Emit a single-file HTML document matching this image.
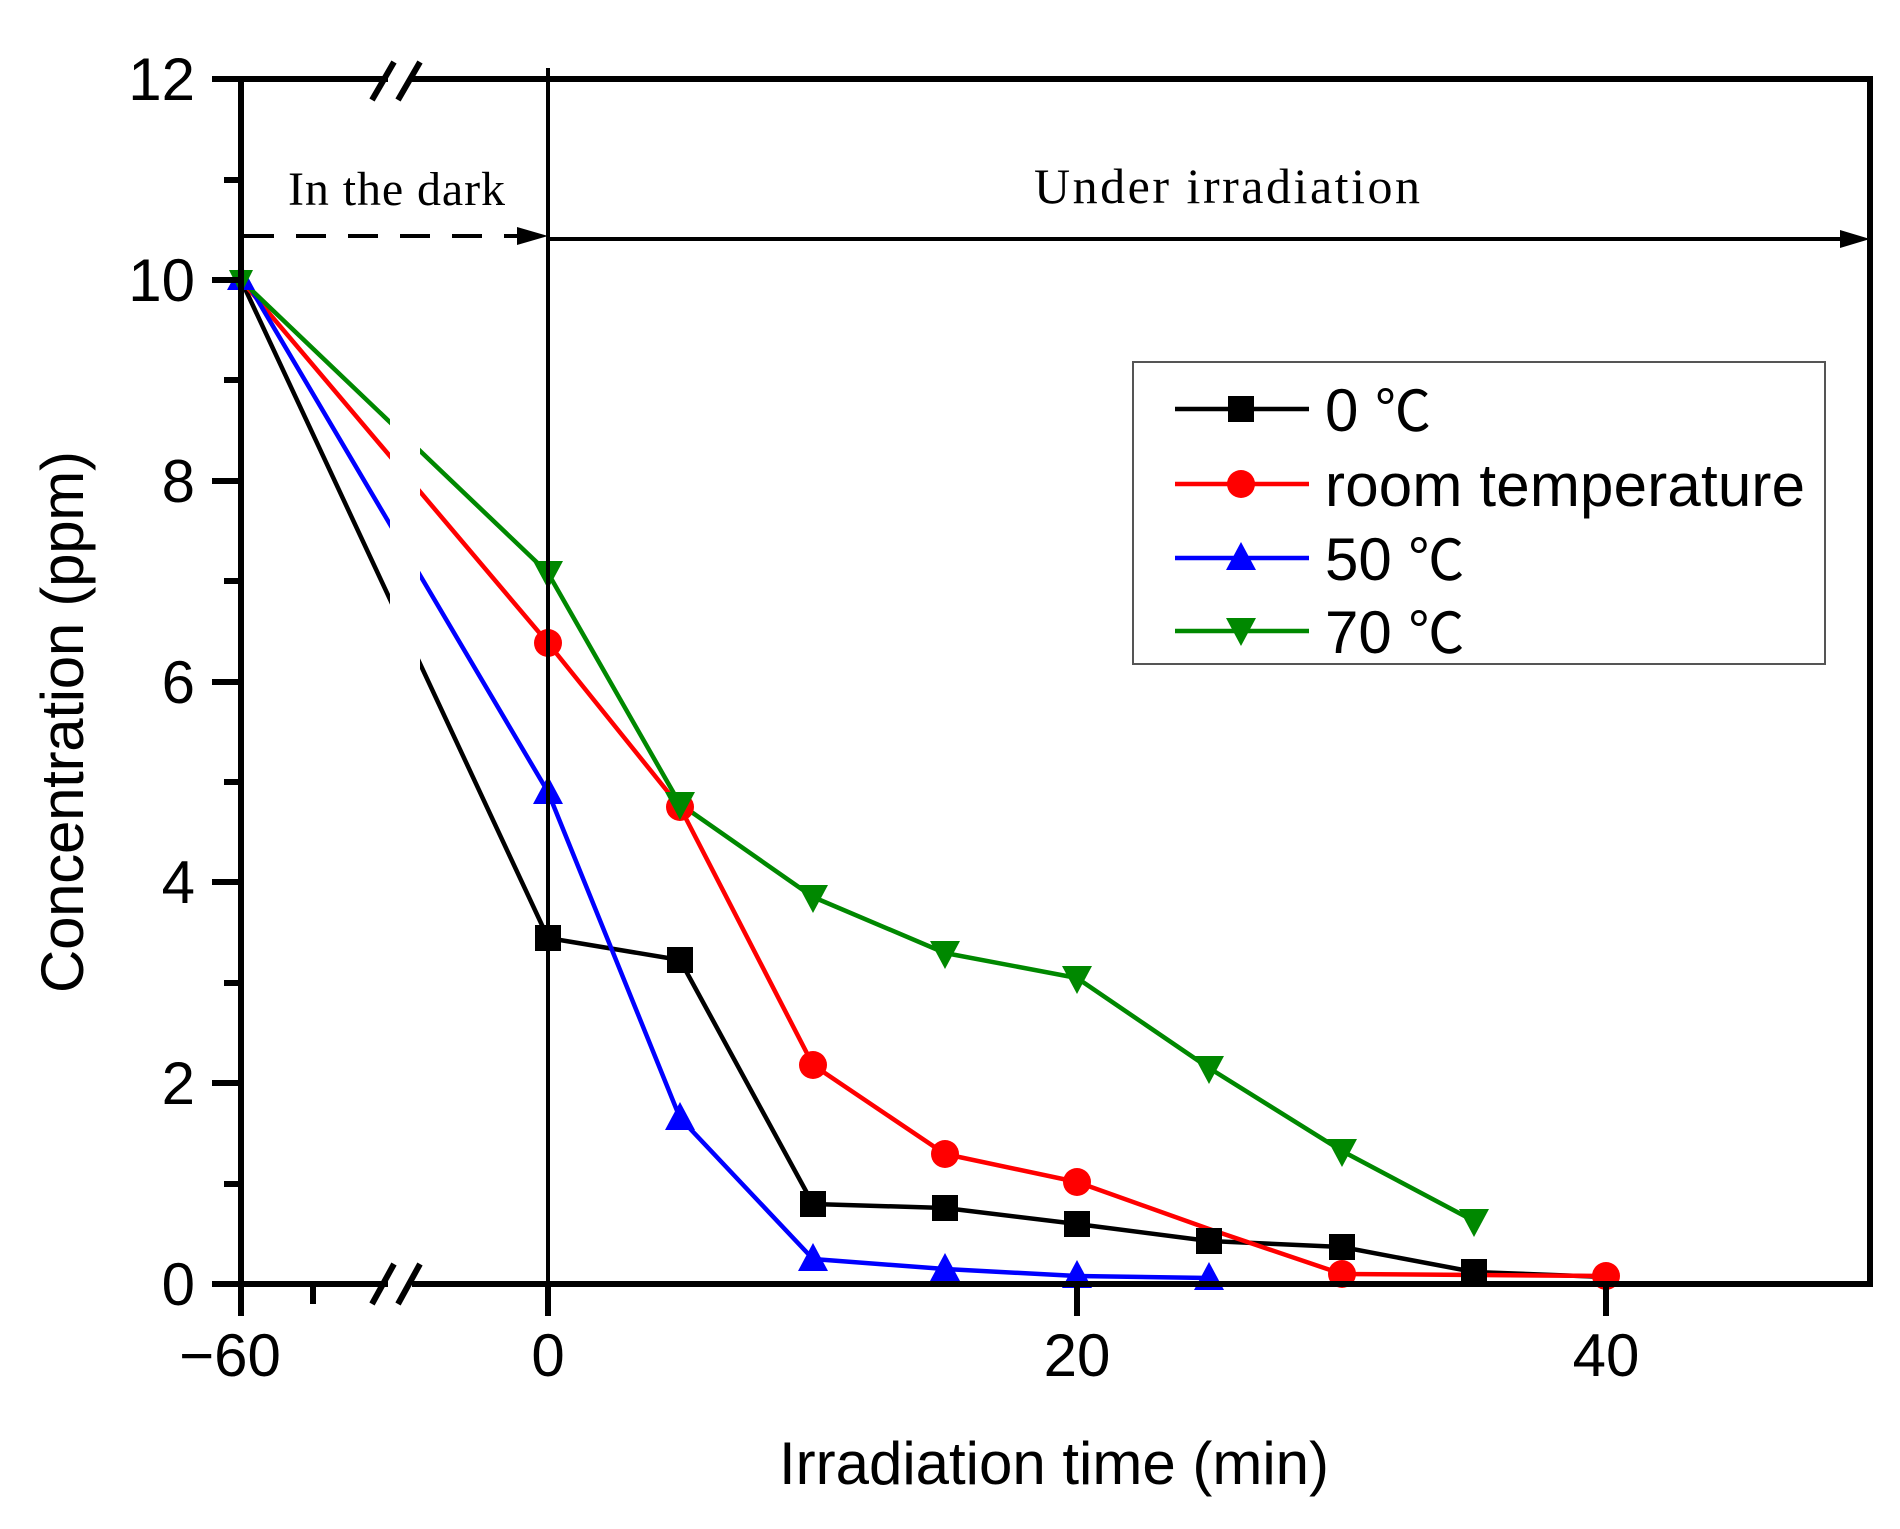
<!DOCTYPE html>
<html><head><meta charset="utf-8"><style>html,body{margin:0;padding:0;background:#fff}</style></head>
<body>
<svg width="1900" height="1524" viewBox="0 0 1900 1524" xmlns="http://www.w3.org/2000/svg" font-family="Liberation Sans, sans-serif">
<g id="data" stroke-width="4.5" fill="none" stroke-linejoin="round">
<polyline stroke="#000" points="241,280 548,938 680,960 813,1204 945,1208 1077,1224 1209,1241 1342,1247 1474,1272 1606,1277"/>
<polyline stroke="#f00" points="241,280 548,643 680,807 813,1065 945,1154 1077,1182 1209,1229 1342,1274 1606,1276"/>
<polyline stroke="#00f" points="241,272 548,792 680,1118 813,1259 945,1269 1077,1276 1209,1278"/>
<polyline stroke="#080" points="241,280 548,573 680,804 813,897 945,953 1077,978 1209,1068 1342,1151 1474,1221"/>
</g>
<rect x="390" y="300" width="30" height="420" fill="#fff"/>
<g>
<g fill="#000"><rect x="535" y="925" width="26" height="26"/><rect x="667" y="947" width="26" height="26"/><rect x="800" y="1191" width="26" height="26"/><rect x="932" y="1195" width="26" height="26"/><rect x="1064" y="1211" width="26" height="26"/><rect x="1196" y="1228" width="26" height="26"/><rect x="1329" y="1234" width="26" height="26"/><rect x="1461" y="1259" width="26" height="26"/></g>
<g fill="#f00"><circle cx="548" cy="643" r="14"/><circle cx="680" cy="807" r="14"/><circle cx="813" cy="1065" r="14"/><circle cx="945" cy="1154" r="14"/><circle cx="1077" cy="1182" r="14"/><circle cx="1342" cy="1274" r="14"/><circle cx="1606" cy="1276" r="14"/></g>
<g fill="#00f"><polygon points="548,776 563,804 533,804"/><polygon points="680,1102 695,1130 665,1130"/><polygon points="813,1243 828,1271 798,1271"/><polygon points="945,1253 960,1281 930,1281"/><polygon points="1077,1260 1092,1288 1062,1288"/><polygon points="1209,1262 1224,1290 1194,1290"/></g>
<g fill="#080"><polygon points="533,561 563,561 548,589"/><polygon points="665,792 695,792 680,820"/><polygon points="798,885 828,885 813,913"/><polygon points="930,941 960,941 945,969"/><polygon points="1062,966 1092,966 1077,994"/><polygon points="1194,1056 1224,1056 1209,1084"/><polygon points="1327,1139 1357,1139 1342,1167"/><polygon points="1459,1209 1489,1209 1474,1237"/></g>
<polygon points="241,264 255,290 227,290" fill="#00f"/>
<polygon points="229,270 253,270 241,294" fill="#080"/>
</g>
<!-- axes -->
<g stroke="#000" stroke-width="6" fill="none">
<line x1="241" y1="79" x2="241" y2="1284"/>
<line x1="1870" y1="79" x2="1870" y2="1284"/>
<line x1="212" y1="79" x2="388" y2="79"/><line x1="412" y1="79" x2="1873" y2="79"/>
<line x1="212" y1="1284" x2="388" y2="1284"/><line x1="412" y1="1284" x2="1873" y2="1284"/>
<line x1="212" y1="280" x2="241" y2="280"/><line x1="212" y1="481" x2="241" y2="481"/><line x1="212" y1="682" x2="241" y2="682"/><line x1="212" y1="882" x2="241" y2="882"/><line x1="212" y1="1083" x2="241" y2="1083"/>
<line x1="224" y1="180" x2="241" y2="180"/><line x1="224" y1="380" x2="241" y2="380"/><line x1="224" y1="581" x2="241" y2="581"/><line x1="224" y1="782" x2="241" y2="782"/><line x1="224" y1="983" x2="241" y2="983"/><line x1="224" y1="1184" x2="241" y2="1184"/>
<line x1="241" y1="1284" x2="241" y2="1316"/><line x1="313" y1="1284" x2="313" y2="1304"/><line x1="548" y1="1284" x2="548" y2="1316"/><line x1="1077" y1="1284" x2="1077" y2="1316"/><line x1="1606" y1="1284" x2="1606" y2="1316"/>
<line x1="372" y1="100" x2="394" y2="62"/><line x1="398" y1="100" x2="420" y2="62"/>
<line x1="372" y1="1304" x2="394" y2="1264"/><line x1="398" y1="1304" x2="420" y2="1264"/>
</g>
<line x1="548" y1="68" x2="548" y2="1284" stroke="#000" stroke-width="4"/>
<line x1="244" y1="236" x2="522" y2="236" stroke="#000" stroke-width="4" stroke-dasharray="30,22"/>
<polygon points="517,227 548,236 517,245" fill="#000"/>
<line x1="548" y1="239" x2="1845" y2="239" stroke="#000" stroke-width="4"/>
<polygon points="1840,230 1870,239 1840,248" fill="#000"/>
<text x="288" y="205" font-family="Liberation Serif, serif" font-size="48" textLength="217">In the dark</text>
<text x="1034" y="203" font-family="Liberation Serif, serif" font-size="50" textLength="386">Under irradiation</text>
<g font-size="60" text-anchor="end" fill="#000">
<text x="195" y="100">12</text><text x="195" y="301">10</text><text x="195" y="502">8</text><text x="195" y="703">6</text><text x="195" y="903">4</text><text x="195" y="1104">2</text><text x="195" y="1305">0</text>
</g>
<g font-size="60" text-anchor="middle" fill="#000">
<text x="230" y="1376">−60</text><text x="548" y="1376">0</text><text x="1077" y="1376">20</text><text x="1606" y="1376">40</text>
</g>
<text x="1054" y="1484" font-size="60" text-anchor="middle" textLength="550">Irradiation time (min)</text>
<text transform="translate(83,722) rotate(-90)" font-size="60" text-anchor="middle" textLength="542">Concentration (ppm)</text>
<rect x="1133" y="362" width="692" height="302" fill="#fff" stroke="#555" stroke-width="2"/>
<g stroke-width="4.5">
<line x1="1175" y1="409" x2="1309" y2="409" stroke="#000"/><rect x="1228" y="396" width="26" height="26" fill="#000"/>
<line x1="1175" y1="484" x2="1309" y2="484" stroke="#f00"/><circle cx="1241" cy="484" r="14" fill="#f00"/>
<line x1="1175" y1="558" x2="1309" y2="558" stroke="#00f"/><polygon points="1241,542 1256,570 1226,570" fill="#00f"/>
<line x1="1175" y1="631" x2="1309" y2="631" stroke="#080"/><polygon points="1226,618 1256,618 1241,646" fill="#080"/>
</g>
<g font-size="60" fill="#000" font-family="Liberation Sans, Noto Sans CJK SC, sans-serif">
<text x="1325" y="431">0 <tspan font-size="56">℃</tspan></text>
<text x="1325" y="506" textLength="480">room temperature</text>
<text x="1325" y="580">50 <tspan font-size="56">℃</tspan></text>
<text x="1325" y="653">70 <tspan font-size="56">℃</tspan></text>
</g>
</svg>
</body></html>
